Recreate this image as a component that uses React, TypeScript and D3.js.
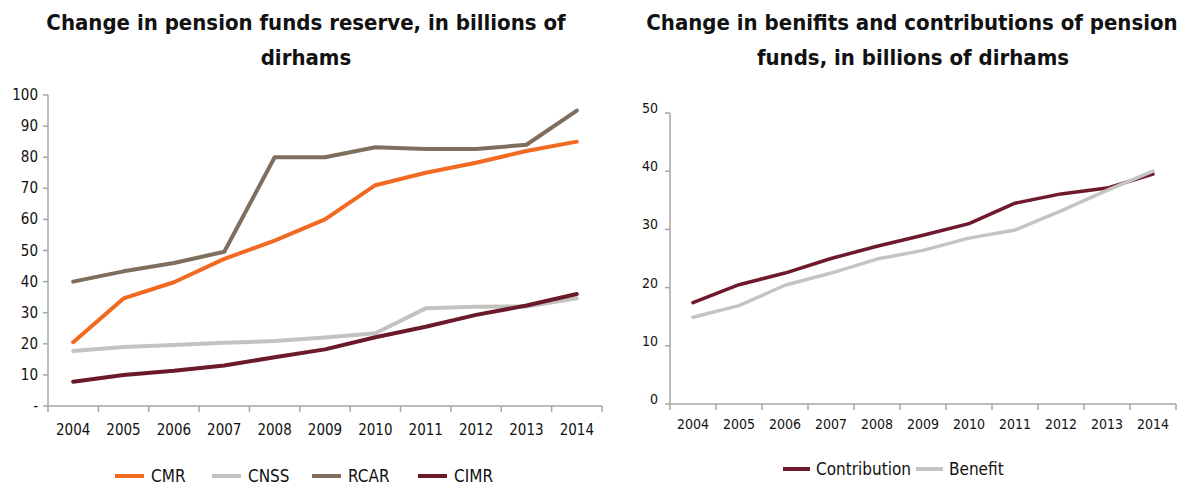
import React from "react";
import * as d3 from "d3";

const years = ["2004","2005","2006","2007","2008","2009","2010","2011","2012","2013","2014"];
const cmr = [20.5, 34.6, 39.8, 47.3, 53.2, 60, 71, 75, 78.2, 82, 85];
const cnss = [17.7, 19, 19.6, 20.3, 20.9, 22, 23.4, 31.4, 31.9, 32, 34.6];
const rcar = [40, 43.3, 46, 49.6, 80, 80, 83.2, 82.6, 82.6, 84, 95];
const cimr = [7.8, 10, 11.3, 13, 15.7, 18.2, 22.1, 25.5, 29.3, 32.3, 36];
const contribution = [17.4, 20.5, 22.5, 25, 27.1, 29, 31, 34.5, 36.1, 37.1, 39.5];
const benefit = [14.9, 16.9, 20.4, 22.5, 24.9, 26.4, 28.5, 29.9, 33.2, 36.7, 40];
const leftTicks = [0, 10, 20, 30, 40, 50, 60, 70, 80, 90, 100];
const rightTicks = [0, 10, 20, 30, 40, 50];

const FONT = "'DejaVu Sans Condensed', 'Open Sans', sans-serif";
const AXIS = "#a6a6a6";

type S = { name: string; values: number[]; color: string };

const leftSeries: S[] = [
  { name: "CMR", values: cmr, color: "#f26a22" },
  { name: "CNSS", values: cnss, color: "#c3c2c0" },
  { name: "RCAR", values: rcar, color: "#7f6e5d" },
  { name: "CIMR", values: cimr, color: "#6b1a2b" },
];
const rightSeries: S[] = [
  { name: "Contribution", values: contribution, color: "#6e1a2c" },
  { name: "Benefit", values: benefit, color: "#c6c4c2" },
];

function Panel(props: {
  x0: number; x1: number; yTop: number; yBot: number; max: number; ticks: number[];
  series: S[]; zeroLabel: string; tickFont: number; lineW: number; labelDy: number; labelDx: number; xLabelDy: number;
}) {
  const { x0, x1, yTop, yBot, max, ticks, series, zeroLabel, tickFont, lineW, labelDy, labelDx, xLabelDy } = props;
  const xb = d3.scaleBand<string>().domain(years).range([x0, x1]).padding(0);
  const y = d3.scaleLinear().domain([0, max]).range([yBot, yTop]);
  const line = d3.line<number>().x((_, i) => (xb(years[i]) as number) + xb.bandwidth() / 2).y((v) => y(v));
  const bounds = years.map((yr) => xb(yr) as number).concat([x1]);
  return (
    <g>
      <line x1={x0} x2={x0} y1={yTop} y2={yBot} stroke={AXIS} strokeWidth={1.5} />
      <line x1={x0} x2={x1} y1={yBot} y2={yBot} stroke={AXIS} strokeWidth={1.5} />
      {ticks.map((t) => (
        <g key={t}>
          <line x1={x0 - 5} x2={x0} y1={y(t)} y2={y(t)} stroke={AXIS} strokeWidth={1.5} />
          <text x={x0 - labelDx} y={y(t) + labelDy} textAnchor="end" dominantBaseline="central" fontSize={tickFont} fill="#111" fontFamily={FONT}>
            {t === 0 ? zeroLabel : String(t)}
          </text>
        </g>
      ))}
      {bounds.map((b, i) => (
        <line key={i} x1={b} x2={b} y1={yBot} y2={yBot + 6} stroke={AXIS} strokeWidth={1.5} />
      ))}
      {years.map((yr) => (
        <text key={yr} x={(xb(yr) as number) + xb.bandwidth() / 2} y={yBot + xLabelDy} textAnchor="middle" dominantBaseline="central" fontSize={tickFont} fill="#111" fontFamily={FONT}>
          {yr}
        </text>
      ))}
      {series.map((s) => (
        <path key={s.name} d={line(s.values) || ""} fill="none" stroke={s.color} strokeWidth={lineW} strokeLinejoin="round" strokeLinecap="round" />
      ))}
    </g>
  );
}

export default function App() {
  const leftLegend: [number, string][] = [[115, "CMR"], [212, "CNSS"], [312, "RCAR"], [418, "CIMR"]];
  const rightLegend: [number, string][] = [[783, "Contribution"], [916, "Benefit"]];
  return (
    <svg width={1186} height={486} style={{ position: "absolute", left: 0, top: 0, background: "#fff" }}>
      <g fontFamily={FONT} fontWeight="bold" fontSize={22} fill="#111" textAnchor="middle">
        <text x={306} y={30}>Change in pension funds reserve, in billions of</text>
        <text x={306} y={65}>dirhams</text>
        <text x={912} y={30}>Change in benifits and contributions of pension</text>
        <text x={913} y={65}>funds, in billions of dirhams</text>
      </g>
      <Panel x0={48} x1={602} yTop={95} yBot={406} max={100} ticks={leftTicks} series={leftSeries} zeroLabel="-" tickFont={15} lineW={4} labelDy={0} labelDx={10} xLabelDy={24} />
      <Panel x0={670} x1={1176} yTop={113} yBot={404} max={50} ticks={rightTicks} series={rightSeries} zeroLabel="0" tickFont={14} lineW={3.5} labelDy={-5} labelDx={12} xLabelDy={20} />
      <g fontFamily={FONT} fontSize={17} fill="#111">
        {leftLegend.map(([x, n], i) => (
          <g key={n}>
            <rect x={x} y={474} width={29} height={4} fill={leftSeries[i].color} />
            <text x={x + 36} y={476} dominantBaseline="central">{n}</text>
          </g>
        ))}
        {rightLegend.map(([x, n], i) => (
          <g key={n}>
            <rect x={x} y={467} width={27} height={4} fill={rightSeries[i].color} />
            <text x={x + 33} y={469} dominantBaseline="central">{n}</text>
          </g>
        ))}
      </g>
    </svg>
  );
}
